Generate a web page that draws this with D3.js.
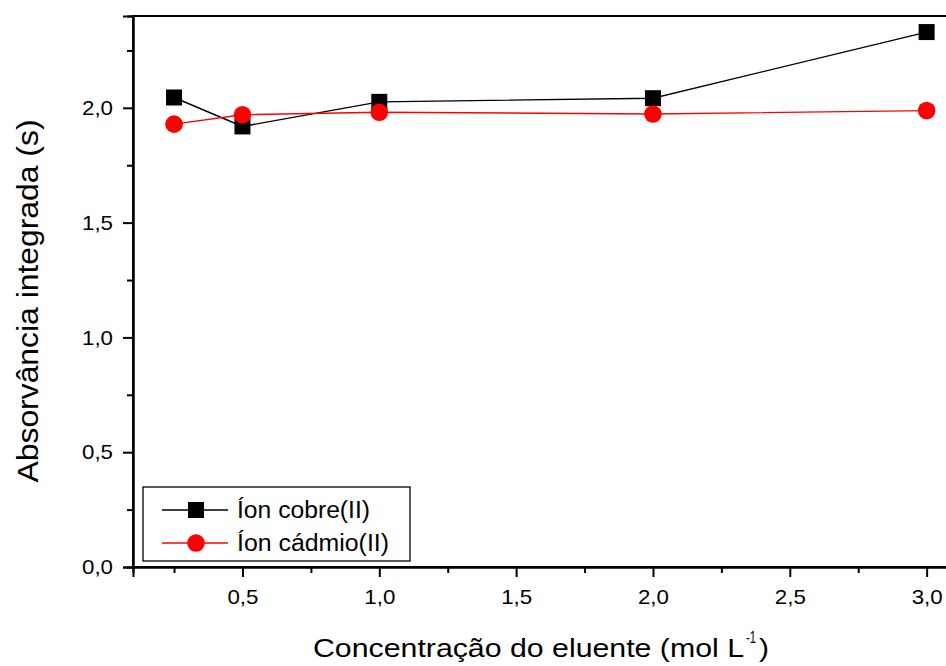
<!DOCTYPE html>
<html><head><meta charset="utf-8">
<script src="https://cdn.jsdelivr.net/npm/d3@7"></script>
<style>body{margin:0;background:#fff}svg{display:block}text{font-family:"Liberation Sans",Arial,sans-serif}</style>
</head><body><div id="c"></div>
<script>
const xValues = [0.25, 0.5, 1.0, 2.0, 3.0];
const cobre = [2.045, 1.919, 2.026, 2.042, 2.330];
const cadmio = [1.929, 1.970, 1.981, 1.973, 1.988];
const seriesNames = ["Íon cobre(II)", "Íon cádmio(II)"];
const xTicks = [0.5, 1.0, 1.5, 2.0, 2.5, 3.0];
const xMinor = [0.25, 0.75, 1.25, 1.75, 2.25, 2.75];
const yTicks = [0.0, 0.5, 1.0, 1.5, 2.0];
const yMinor = [0.25, 0.75, 1.25, 1.75, 2.25];

const W = 946, H = 666;
const svg = d3.select("#c").append("svg").attr("width", W).attr("height", H);
const x = d3.scaleLinear().domain([0.1, 3.1]).range([133, 954]);
const y = d3.scaleLinear().domain([0, 2.4]).range([567, 16]);
const fmt = d => d3.format(".1f")(d).replace(".", ",");

// frame
svg.append("rect").attr("x", 133).attr("y", 16).attr("width", 954 - 133).attr("height", 567 - 16)
  .attr("fill", "none").attr("stroke", "#000").attr("stroke-width", 2);

// x axis
const gx = svg.append("g").attr("transform", "translate(0,567)")
  .call(d3.axisBottom(x).tickValues(xTicks).tickFormat(fmt).tickSize(10).tickPadding(12));
svg.append("g").attr("transform", "translate(0,567)")
  .call(d3.axisBottom(x).tickValues(xMinor).tickFormat("").tickSize(6));
// y axis
const gy = svg.append("g").attr("transform", "translate(133,0)")
  .call(d3.axisLeft(y).tickValues(yTicks).tickFormat(fmt).tickSize(10).tickPadding(10));
svg.append("g").attr("transform", "translate(133,0)")
  .call(d3.axisLeft(y).tickValues(yMinor).tickFormat("").tickSize(6));
svg.selectAll(".domain").attr("stroke", "#000").attr("stroke-width", 2);
svg.selectAll(".tick line").attr("stroke", "#000").attr("stroke-width", 2);
svg.selectAll(".tick text").attr("font-size", 21).attr("fill", "#000")
  .attr("textLength", 31).attr("lengthAdjust", "spacingAndGlyphs")
  .style("font-family", "'Liberation Sans',Arial,sans-serif");

// titles
svg.append("text").attr("x", 313).attr("y", 657).attr("font-size", 26).attr("fill", "#000")
  .attr("textLength", 431).attr("lengthAdjust", "spacingAndGlyphs")
  .text("Concentração do eluente (mol L");
svg.append("text").attr("x", 746).attr("y", 643).attr("font-size", 16).attr("fill", "#000")
  .attr("textLength", 10).attr("lengthAdjust", "spacingAndGlyphs").text("-1");
svg.append("text").attr("x", 759).attr("y", 657).attr("font-size", 26).attr("fill", "#000")
  .attr("textLength", 10).attr("lengthAdjust", "spacingAndGlyphs").text(")");
svg.append("text").attr("transform", "translate(38,301) rotate(-90)").attr("text-anchor", "middle")
  .attr("font-size", 29).attr("fill", "#000")
  .attr("textLength", 363).attr("lengthAdjust", "spacingAndGlyphs")
  .text("Absorvância integrada (s)");

const line = d3.line().x((d, i) => x(xValues[i])).y(d => y(d));
svg.append("path").datum(cobre).attr("d", line).attr("fill", "none").attr("stroke", "#000").attr("stroke-width", 1.4);
svg.append("path").datum(cadmio).attr("d", line).attr("fill", "none").attr("stroke", "#ff0000").attr("stroke-width", 1.4);
svg.selectAll(".sq").data(cobre).enter().append("rect")
  .attr("x", (d, i) => x(xValues[i]) - 8).attr("y", d => y(d) - 8).attr("width", 16).attr("height", 16).attr("fill", "#000");
svg.selectAll(".ci").data(cadmio).enter().append("circle")
  .attr("cx", (d, i) => x(xValues[i])).attr("cy", d => y(d)).attr("r", 8.8).attr("fill", "#ff0000");

// legend
const lg = svg.append("g");
lg.append("rect").attr("x", 143).attr("y", 487).attr("width", 267).attr("height", 74)
  .attr("fill", "#fff").attr("stroke", "#000").attr("stroke-width", 1.3);
const rows = [{name: seriesNames[0], c: "#000", m: "sq", yy: 510, w: 133}, {name: seriesNames[1], c: "#ff0000", m: "ci", yy: 543, w: 152}];
rows.forEach(r => {
  lg.append("line").attr("x1", 162).attr("x2", 228).attr("y1", r.yy).attr("y2", r.yy).attr("stroke", r.c).attr("stroke-width", 1.4);
  if (r.m === "sq") lg.append("rect").attr("x", 188).attr("y", r.yy - 8).attr("width", 16).attr("height", 16).attr("fill", r.c);
  else lg.append("circle").attr("cx", 196).attr("cy", r.yy).attr("r", 8.8).attr("fill", r.c);
  lg.append("text").attr("x", 237).attr("y", r.yy + 8).attr("font-size", 23).attr("fill", "#000")
    .attr("textLength", r.w).attr("lengthAdjust", "spacingAndGlyphs").text(r.name);
});
</script></body></html>
